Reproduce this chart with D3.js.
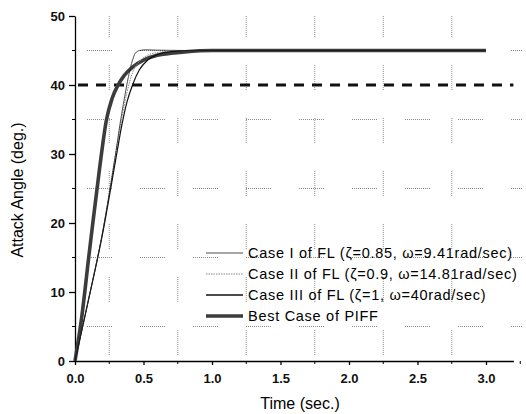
<!DOCTYPE html>
<html><head><meta charset="utf-8">
<script src="https://cdn.jsdelivr.net/npm/d3@7"></script>
<style>body{margin:0;background:#fff}svg{display:block}text{font-family:Arial,"Liberation Sans",sans-serif}</style>
</head><body><svg id="c" width="526" height="414"></svg>
<script>
const xTicks = [0, 0.5, 1.0, 1.5, 2.0, 2.5, 3.0];
const yTicks = [0, 10, 20, 30, 40, 50];
const refLevel = 40;
const legendLabels = [
  "Case I of FL (\u03B6=0.85, \u03C9=9.41rad/sec)",
  "Case II of FL (\u03B6=0.9, \u03C9=14.81rad/sec)",
  "Case III of FL (\u03B6=1, \u03C9=40rad/sec)",
  "Best Case of PIFF"
];
const caseI_t = [0, 0.1, 0.2, 0.3, 0.33, 0.36, 0.39, 0.42, 0.44, 0.47, 0.52, 0.6, 0.8, 3.0];
const caseI_v = [0, 9, 18.5, 30.5, 34.5, 38, 41.2, 43.6, 44.6, 45, 45.1, 45.05, 45, 45];
const caseII_t = [0, 0.1, 0.2, 0.3, 0.34, 0.38, 0.42, 0.47, 0.53, 0.6, 0.7, 0.9, 3.0];
const caseII_v = [0, 9, 18.5, 30.5, 35, 39, 41.8, 43.4, 44.3, 44.7, 44.9, 45, 45];
const caseIII_t = [0, 0.1, 0.2, 0.3, 0.34, 0.38, 0.42, 0.47, 0.53, 0.6, 0.7, 0.9, 3.0];
const caseIII_v = [0, 9, 18.3, 29.5, 34, 37.6, 40, 42.2, 43.6, 44.4, 44.85, 45, 45];
const piff_t = [0, 0.05, 0.1, 0.124, 0.18, 0.23, 0.27, 0.314, 0.36, 0.42, 0.5, 0.6, 0.7, 0.8, 1.0, 3.0];
const piff_v = [0, 6.5, 15, 19, 28, 35, 38, 40, 41.4, 42.6, 43.6, 44.3, 44.6, 44.8, 45, 45];

const svg = d3.select("#c");
const x = d3.scaleLinear().domain([0, 3.2]).range([75, 513.4]);
const y = d3.scaleLinear().domain([0, 50]).range([361, 16]);

// segmented dotted grid pattern
let seg = [];
for (let i = 0; i < 13; i++) seg.push(1, 1);
seg[seg.length - 1] = 28;
const gridDash = seg.join(",");

const g = svg.append("g");
const minorX = d3.range(0.25, 3.0, 0.5);
const minorY = d3.range(5, 50, 10);
g.selectAll(".vg").data(minorX).join("line")
  .attr("x1", d => x(d)).attr("x2", d => x(d)).attr("y1", 361).attr("y2", 16)
  .attr("stroke", "#8a8a8a").attr("stroke-width", 1).attr("stroke-dasharray", gridDash)
  .attr("stroke-dashoffset", -6);
g.selectAll(".hg").data(minorY).join("line")
  .attr("x1", 75).attr("x2", 522).attr("y1", d => y(d)).attr("y2", d => y(d))
  .attr("stroke", "#8a8a8a").attr("stroke-width", 1).attr("stroke-dasharray", gridDash)
  .attr("stroke-dashoffset", -12);

// reference dashed line
svg.append("line").attr("x1", x(0) + 3).attr("x2", x(3.2)).attr("y1", y(refLevel)).attr("y2", y(refLevel))
  .attr("stroke", "#111").attr("stroke-width", 3).attr("stroke-dasharray", "10,8");

// axes
const xAxis = d3.axisBottom(x).tickValues(xTicks).tickFormat(d3.format(".1f")).tickSize(4).tickSizeOuter(0);
const xa = svg.append("g").attr("transform", "translate(0,361)").call(xAxis);
xa.selectAll("text").attr("font-size", 13).attr("font-weight", "bold").attr("fill", "#111").attr("dy", "1.15em");
xa.select(".domain").attr("stroke", "#000").attr("stroke-width", 1.3);
xa.selectAll(".tick line").attr("stroke", "#000").attr("stroke-width", 1.3);
svg.append("g").attr("transform", "translate(0,361)").selectAll("line").data(d3.range(0.25, 3.3, 0.5)).join("line")
  .attr("x1", d => x(d)).attr("x2", d => x(d)).attr("y1", 0).attr("y2", 3).attr("stroke", "#000").attr("stroke-width", 1);

const yAxis = d3.axisLeft(y).tickValues(yTicks).tickSize(6).tickSizeOuter(0);
const ya = svg.append("g").attr("transform", "translate(75,0)").call(yAxis);
ya.selectAll("text").attr("font-size", 13).attr("font-weight", "bold").attr("fill", "#111").attr("x", -10);
ya.select(".domain").attr("stroke", "#000").attr("stroke-width", 1.3);
ya.selectAll(".tick line").attr("stroke", "#000").attr("stroke-width", 1.3);
svg.append("g").attr("transform", "translate(75,0)").selectAll("line").data(d3.range(5, 50, 10)).join("line")
  .attr("x1", -3).attr("x2", 0).attr("y1", d => y(d)).attr("y2", d => y(d)).attr("stroke", "#000").attr("stroke-width", 1);

// axis titles
svg.append("text").attr("x", 300).attr("y", 409).attr("text-anchor", "middle").attr("font-size", 16).text("Time (sec.)");
svg.append("text").attr("transform", "translate(23,190) rotate(-90)").attr("text-anchor", "middle").attr("font-size", 16).text("Attack Angle (deg.)");

// curves
const line = d3.line().x(d => x(d[0])).y(d => y(d[1])).curve(d3.curveMonotoneX);
const series = [
  {t: piff_t, v: piff_v, stroke: "#3c3c3c", w: 3.6, dash: null},
  {t: caseII_t, v: caseII_v, stroke: "#888", w: 1, dash: "1.5,1"},
  {t: caseIII_t, v: caseIII_v, stroke: "#111", w: 1.2, dash: null},
  {t: caseI_t, v: caseI_v, stroke: "#222", w: 0.8, dash: null}
];
series.forEach(s => {
  svg.append("path").datum(s.t.map((t, i) => [t, s.v[i]]))
    .attr("d", line).attr("fill", "none").attr("stroke", s.stroke).attr("stroke-width", s.w)
    .attr("stroke-dasharray", s.dash);
});

// legend
const legStyles = [
  {stroke: "#222", w: 0.8, dash: null},
  {stroke: "#888", w: 1, dash: "1.5,1"},
  {stroke: "#111", w: 1.3, dash: null},
  {stroke: "#3c3c3c", w: 3.6, dash: null}
];
const lg = svg.append("g");
legendLabels.forEach((lab, i) => {
  const yy = 253 + i * 21;
  lg.append("line").attr("x1", 206).attr("x2", 243).attr("y1", yy).attr("y2", yy)
    .attr("stroke", legStyles[i].stroke).attr("stroke-width", legStyles[i].w).attr("stroke-dasharray", legStyles[i].dash);
  lg.append("text").attr("x", 248).attr("y", yy + 5).attr("font-size", 14.5).attr("letter-spacing", 0.72).text(lab);
});
</script></body></html>
